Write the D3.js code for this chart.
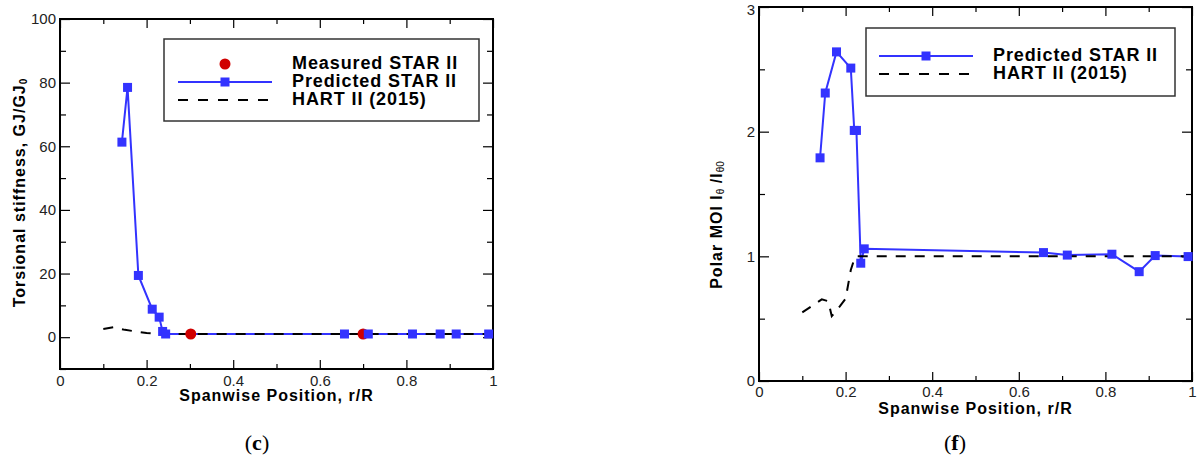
<!DOCTYPE html>
<meta charset="utf-8">
<style>
body { margin: 0; background: #fff; }
svg { display: block; font-family: "Liberation Sans", Arial, sans-serif; }
.frame { fill: none; stroke: #000; stroke-width: 2px; }
.tick line { stroke: #000; stroke-width: 1.2px; }
.tick text { font-size: 15px; fill: #222; }
.title { font-size: 16px; font-weight: bold; letter-spacing: 1px; }
.legtext { font-size: 18px; font-weight: bold; letter-spacing: 0.9px; }
.caption { font-family: "Liberation Serif", "DejaVu Serif", serif; font-size: 22px; }
</style>
<svg width="1200" height="459"></svg>
<script src="https://d3js.org/d3.v7.min.js"></script>
<script>

// ---- panel (c): torsional stiffness ----
var gjPredX = [0.143, 0.156, 0.181, 0.213, 0.229, 0.237, 0.244, 0.657, 0.712, 0.814, 0.878, 0.915, 0.99];
var gjPredY = [61.3, 78.5, 19.4, 8.8, 6.3, 1.8, 1.0, 1.0, 1.0, 1.0, 1.0, 1.0, 1.0];
var gjMeasX = [0.302, 0.70];
var gjMeasY = [1.0, 1.0];
var gjHartX = [0.1, 0.123, 0.15, 0.2, 0.235, 1.0];
var gjHartY = [2.6, 3.1, 2.3, 1.3, 1.0, 1.0];

// ---- panel (f): polar moment of inertia ----
var moiPredX = [0.141, 0.153, 0.179, 0.212, 0.22, 0.225, 0.235, 0.243, 0.657, 0.712, 0.815, 0.878, 0.915, 0.991];
var moiPredY = [1.79, 2.31, 2.64, 2.51, 2.01, 2.01, 0.945, 1.06, 1.03, 1.01, 1.017, 0.877, 1.006, 0.998];
var moiHartX = [0.1, 0.145, 0.16, 0.168, 0.187, 0.2, 0.212, 0.222, 1.0];
var moiHartY = [0.55, 0.655, 0.64, 0.52, 0.60, 0.66, 0.89, 1.0, 1.0];

var xTicks = [0, 0.2, 0.4, 0.6, 0.8, 1];
var xMinor = [0.1, 0.3, 0.5, 0.7, 0.9];
var gjTicks = [0, 20, 40, 60, 80, 100];
var gjMinor = [-10, 10, 30, 50, 70, 90];
var moiTicks = [0, 1, 2, 3];
var moiMinor = [0.5, 1.5, 2.5];

var blue = "#3333ff", red = "#d00000";

var svg = d3.select("svg");

function zip(xs, ys) { return xs.map(function(d, i) { return [d, ys[i]]; }); }

function drawPanel(p) {
  var x = d3.scaleLinear().domain([0, 1]).range([p.left, p.right]);
  var y = d3.scaleLinear().domain(p.yDomain).range([p.bottom, p.top]);
  var g = svg.append("g");

  function fmt(d) { return d3.format("~g")(d); }

  // major + minor ticks on all four sides, pointing inward
  g.append("g").attr("transform", "translate(0," + p.bottom + ")")
    .call(d3.axisBottom(x).tickValues(xTicks).tickFormat(fmt).tickSize(-9).tickPadding(p.xPad));
  g.append("g").attr("transform", "translate(0," + p.bottom + ")")
    .call(d3.axisBottom(x).tickValues(xMinor).tickFormat("").tickSize(-5));
  g.append("g").attr("transform", "translate(0," + p.top + ")")
    .call(d3.axisTop(x).tickValues(xTicks).tickFormat("").tickSize(-9));
  g.append("g").attr("transform", "translate(0," + p.top + ")")
    .call(d3.axisTop(x).tickValues(xMinor).tickFormat("").tickSize(-5));
  var yAx = g.append("g").attr("transform", "translate(" + p.left + ",0)")
    .call(d3.axisLeft(y).tickValues(p.yTicks).tickFormat(fmt).tickSize(-10).tickPadding(p.yPad));
  // keep the top label inside the window
  yAx.selectAll(".tick text").filter(function(d) { return y(d) < 12; }).attr("dy", "0.5em");
  g.append("g").attr("transform", "translate(" + p.left + ",0)")
    .call(d3.axisLeft(y).tickValues(p.yMinor).tickFormat("").tickSize(-6));
  g.append("g").attr("transform", "translate(" + p.right + ",0)")
    .call(d3.axisRight(y).tickValues(p.yTicks).tickFormat("").tickSize(-10));
  g.append("g").attr("transform", "translate(" + p.right + ",0)")
    .call(d3.axisRight(y).tickValues(p.yMinor).tickFormat("").tickSize(-6));
  g.selectAll(".domain").remove();

  g.append("rect").attr("class", "frame")
    .attr("x", p.left).attr("y", p.top)
    .attr("width", p.right - p.left).attr("height", p.bottom - p.top);

  var line = d3.line().x(function(d) { return x(d[0]); }).y(function(d) { return y(d[1]); });

  var pred = zip(p.predX, p.predY);
  g.append("path").datum(pred).attr("d", line)
    .attr("fill", "none").attr("stroke", blue).attr("stroke-width", 2);
  g.append("path").datum(zip(p.hartX, p.hartY)).attr("d", line)
    .attr("fill", "none").attr("stroke", "#000").attr("stroke-width", 2)
    .attr("stroke-dasharray", "10,9");
  if (p.measX) {
    g.selectAll(".meas").data(zip(p.measX, p.measY)).enter().append("circle")
      .attr("cx", function(d) { return x(d[0]); })
      .attr("cy", function(d) { return y(d[1]); })
      .attr("r", 5.5).attr("fill", red);
  }
  g.selectAll(".sq").data(pred).enter().append("rect")
    .attr("x", function(d) { return x(d[0]) - 4.5; })
    .attr("y", function(d) { return y(d[1]) - 4.5; })
    .attr("width", 9).attr("height", 9).attr("fill", blue);

  // axis titles
  g.append("text").attr("class", "title")
    .attr("x", (p.left + p.right) / 2).attr("y", p.xTitleY)
    .attr("text-anchor", "middle").attr("dominant-baseline", "middle")
    .text("Spanwise Position, r/R");
  var yt = g.append("text").attr("class", "title")
    .attr("transform", "translate(" + p.yTitleX + "," + p.yTitleY + ") rotate(-90)")
    .attr("text-anchor", "middle").attr("dominant-baseline", "middle");
  p.yTitle.forEach(function(part) {
    var t = yt.append("tspan").text(part[0]);
    if (part[1]) t.attr("font-size", "10px").attr("baseline-shift", "-30%")
      .attr("font-weight", part[2] ? "normal" : "bold").attr("letter-spacing", "0");
  });

  // legend
  var lg = p.legend;
  g.append("rect").attr("x", lg.x0).attr("y", lg.y0)
    .attr("width", lg.x1 - lg.x0).attr("height", lg.y1 - lg.y0)
    .attr("fill", "#fff").attr("stroke", "#333").attr("stroke-width", 1.5);
  lg.items.forEach(function(it, i) {
    var yy = lg.rows[i];
    var mid = (lg.lineX0 + lg.lineX1) / 2;
    if (it.type === "circle") {
      g.append("circle").attr("cx", mid).attr("cy", yy).attr("r", 5.5).attr("fill", red);
    } else if (it.type === "pred") {
      g.append("line").attr("x1", lg.lineX0).attr("x2", lg.lineX1).attr("y1", yy).attr("y2", yy)
        .attr("stroke", blue).attr("stroke-width", 2);
      g.append("rect").attr("x", mid - 4.5).attr("y", yy - 4.5).attr("width", 9).attr("height", 9)
        .attr("fill", blue);
    } else {
      g.append("line").attr("x1", lg.lineX0).attr("x2", lg.lineX1).attr("y1", yy).attr("y2", yy)
        .attr("stroke", "#000").attr("stroke-width", 2).attr("stroke-dasharray", "10,10");
    }
    g.append("text").attr("class", "legtext").attr("x", lg.textX).attr("y", yy)
      .attr("dominant-baseline", "middle").text(it.label);
  });

  // caption
  var cap = svg.append("text").attr("class", "caption")
    .attr("x", p.capX).attr("y", 445).attr("text-anchor", "middle")
    .attr("dominant-baseline", "middle");
  cap.append("tspan").text("(");
  cap.append("tspan").attr("font-weight", "bold").text(p.capLetter);
  cap.append("tspan").text(")");
}

drawPanel({
  left: 60, right: 493, top: 19, bottom: 369,
  yDomain: [-10, 100], yTicks: gjTicks, yMinor: gjMinor,
  xPad: 6, yPad: 4,
  predX: gjPredX, predY: gjPredY, hartX: gjHartX, hartY: gjHartY,
  measX: gjMeasX, measY: gjMeasY,
  xTitleY: 397, yTitleX: 21, yTitleY: 193,
  yTitle: [["Torsional stiffness, GJ/GJ"], ["0", true]],
  legend: {
    x0: 164, y0: 39, x1: 479, y1: 121, lineX0: 178, lineX1: 272, textX: 292,
    rows: [64, 82, 100],
    items: [{type: "circle", label: "Measured STAR II"},
            {type: "pred", label: "Predicted STAR II"},
            {type: "hart", label: "HART II (2015)"}]
  },
  capX: 257, capLetter: "c"
});

drawPanel({
  left: 759, right: 1192, top: 7, bottom: 381,
  yDomain: [0, 3], yTicks: moiTicks, yMinor: moiMinor,
  xPad: 5, yPad: 4,
  predX: moiPredX, predY: moiPredY, hartX: moiHartX, hartY: moiHartY,
  measX: null,
  xTitleY: 410, yTitleX: 718, yTitleY: 225,
  yTitle: [["Polar MOI I"], ["\u03b8", true, true], [" /I"], ["\u03b80", true, true]],
  legend: {
    x0: 866, y0: 28, x1: 1175, y1: 96, lineX0: 879, lineX1: 973, textX: 993,
    rows: [56, 74],
    items: [{type: "pred", label: "Predicted STAR II"},
            {type: "hart", label: "HART II (2015)"}]
  },
  capX: 955, capLetter: "f"
});

</script>
